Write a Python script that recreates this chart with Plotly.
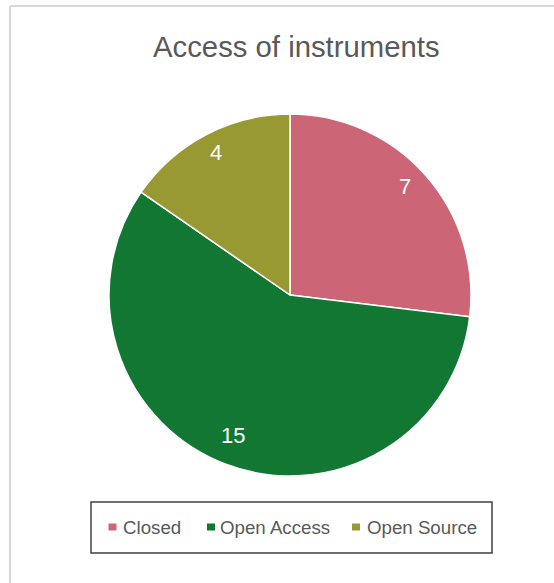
import math
import plotly.graph_objects as go

# ---- data ----
categories = ["Closed", "Open Access", "Open Source"]
values = [7, 15, 4]
colors = ["#CC6677", "#117733", "#999933"]
title_text = "Access of instruments"

W, H = 554, 583
FONT = "Arial, Liberation Sans, sans-serif"
GRAY = "#595959"

def px(x):
    return x / W

def py(y):
    return 1 - y / H

# pie geometry (pixels)
cx, cy, R = 290, 295, 181

fig = go.Figure()
fig.add_trace(go.Pie(
    labels=categories,
    values=values,
    marker=dict(colors=colors, line=dict(color="white", width=1.5)),
    sort=False,
    direction="clockwise",
    rotation=0,
    textinfo="none",
    hoverinfo="label+value",
    showlegend=False,
    domain=dict(x=[px(cx - R), px(cx + R)], y=[py(cy + R), py(cy - R)]),
))

annotations = []
# value labels positioned along the slice mid-angle
total = sum(values)
cum = 0
for v in values:
    mid = 2 * math.pi * (cum + v / 2) / total
    cum += v
    lx = cx + 0.86 * R * math.sin(mid) - 2
    ly = cy - 0.86 * R * math.cos(mid) - 5
    annotations.append(dict(
        x=px(lx), y=py(ly), xref="paper", yref="paper",
        text=str(v), showarrow=False, xanchor="center", yanchor="middle",
        font=dict(family=FONT, size=22, color="white"),
    ))

# title
annotations.append(dict(
    x=px(296.5), y=py(47), xref="paper", yref="paper",
    text=title_text, showarrow=False, xanchor="center", yanchor="middle",
    font=dict(family=FONT, size=29.3, color=GRAY),
))

shapes = [
    # outer frame lines (top and left)
    dict(type="line", xref="paper", yref="paper", x0=px(10), x1=px(W), y0=py(6), y1=py(6),
         line=dict(color="#d9d9d9", width=2)),
    dict(type="line", xref="paper", yref="paper", x0=px(10), x1=px(10), y0=py(6), y1=py(H),
         line=dict(color="#d9d9d9", width=2)),
    # legend box
    dict(type="rect", xref="paper", yref="paper", x0=px(91), x1=px(492), y0=py(553), y1=py(502),
         line=dict(color="#404040", width=1.5), fillcolor="rgba(0,0,0,0)"),
]

# custom legend entries
marker_x = [112.5, 211, 356]
text_x = [121, 218, 365]
ly = 527
for name, col, mx, tx in zip(categories, colors, marker_x, text_x):
    shapes.append(dict(type="rect", xref="paper", yref="paper",
                       x0=px(mx - 4), x1=px(mx + 4), y0=py(ly + 3.5), y1=py(ly - 3.5),
                       line=dict(width=0), fillcolor=col))
    annotations.append(dict(
        x=px(tx), y=py(ly), xref="paper", yref="paper",
        text=name, showarrow=False, xanchor="left", yanchor="middle",
        font=dict(family=FONT, size=18.7, color=GRAY),
    ))

fig.update_layout(
    width=W, height=H,
    margin=dict(l=0, r=0, t=0, b=0),
    paper_bgcolor="white",
    plot_bgcolor="white",
    annotations=annotations,
    shapes=shapes,
    showlegend=False,
)

fig.write_html("out.html")
